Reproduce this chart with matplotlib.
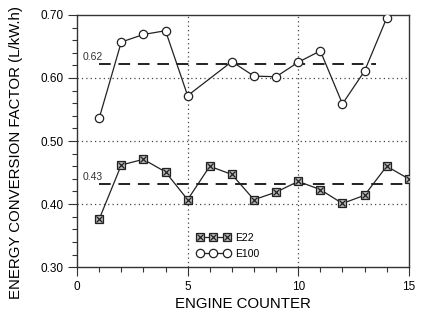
import numpy as np
import matplotlib; matplotlib.use("Agg"); import matplotlib.pyplot as plt
from matplotlib.lines import Line2D
from matplotlib.legend_handler import HandlerTuple
from matplotlib.ticker import MultipleLocator

plt.rcParams.update({"font.family": ["Liberation Sans", "DejaVu Sans"]})

# data
e22_x = [1, 2, 3, 4, 5, 6, 7, 8, 9, 10, 11, 12, 13, 14, 15]
e22_y = [0.376, 0.462, 0.471, 0.451, 0.407, 0.460, 0.447, 0.407, 0.419, 0.436,
         0.423, 0.401, 0.414, 0.460, 0.440]
e100_x = [1, 2, 3, 4, 5, 7, 8, 9, 10, 11, 12, 13, 14]
e100_y = [0.536, 0.657, 0.669, 0.675, 0.572, 0.626, 0.603, 0.602, 0.625, 0.643,
          0.559, 0.611, 0.695]
mean_e22, mean_e22_span = 0.432, (1.0, 15.0)
mean_e100, mean_e100_span = 0.622, (1.0, 13.5)

fig = plt.figure(figsize=(4.21, 3.25), dpi=100)
ax = fig.add_axes([0.183, 0.178, 0.788, 0.776])

for v in (5, 10):
    ax.axvline(v, color="#444444", lw=0.9, ls=(0, (1, 2.5)), zorder=1)
for v in (0.40, 0.50, 0.60):
    ax.axhline(v, color="#444444", lw=0.9, ls=(0, (1, 2.5)), zorder=1)

ax.hlines(mean_e100, *mean_e100_span, color="#222222", lw=1.4, ls=(0, (6, 4)), zorder=2)
ax.hlines(mean_e22, *mean_e22_span, color="#222222", lw=1.4, ls=(0, (6, 4)), zorder=2)
ax.text(0.25, mean_e100 + 0.011, "%.2f" % round(mean_e100, 2), fontsize=7.5, color="#333333", va="center")
ax.text(0.25, mean_e22 + 0.011, "%.2f" % round(mean_e22, 2), fontsize=7.5, color="#333333", va="center")

ax.plot(e100_x, e100_y, color="#222222", lw=0.9, marker="o", ms=6,
        mfc="white", mec="#222222", mew=0.9, zorder=3)
ax.plot(e22_x, e22_y, color="#222222", lw=0.9, marker="s", ms=6.2,
        mfc="#b8b8b8", mec="#222222", mew=0.9, zorder=3)
ax.plot(e22_x, e22_y, ls="none", marker="x", ms=4.5, mec="#222222", mew=0.9, zorder=4)

h22a = Line2D([], [], color="#222222", lw=0.9, marker="s", ms=6.2, mfc="#b8b8b8", mec="#222222", mew=0.9)
h22b = Line2D([], [], ls="none", marker="x", ms=4.5, mec="#222222", mew=0.9)
h100 = Line2D([], [], color="#222222", lw=0.9, marker="o", ms=6, mfc="white", mec="#222222", mew=0.9)
ax.legend([(h22a, h22b), h100], ["E22", "E100"], numpoints=3, frameon=False,
          handler_map={tuple: HandlerTuple(ndivide=1, pad=0)}, handlelength=3.2,
          handletextpad=0.5, labelspacing=0.55, fontsize=7.5,
          loc="center left", bbox_to_anchor=(0.36, 0.085), borderpad=0, borderaxespad=0)

ax.set_xlim(0, 15); ax.set_ylim(0.30, 0.70)
ax.xaxis.set_major_locator(MultipleLocator(5)); ax.xaxis.set_minor_locator(MultipleLocator(1))
ax.yaxis.set_major_locator(MultipleLocator(0.1)); ax.yaxis.set_minor_locator(MultipleLocator(0.02))
ax.yaxis.set_major_formatter(matplotlib.ticker.FormatStrFormatter("%.2f"))
ax.tick_params(which="major", direction="out", length=6.5, width=0.8, labelsize=8.5, color="#333333")
ax.tick_params(which="minor", direction="out", length=3.6, width=0.8, color="#333333")
for s in ax.spines.values():
    s.set_linewidth(1.0); s.set_color("#333333")
ax.set_xlabel("ENGINE COUNTER", fontsize=10.8, labelpad=3)
ax.set_ylabel("ENERGY CONVERSION FACTOR (L/kW.h)", fontsize=10.8)
ax.yaxis.set_label_coords(-0.162, 0.455)

fig.savefig("out.png", dpi=100, facecolor="white")
